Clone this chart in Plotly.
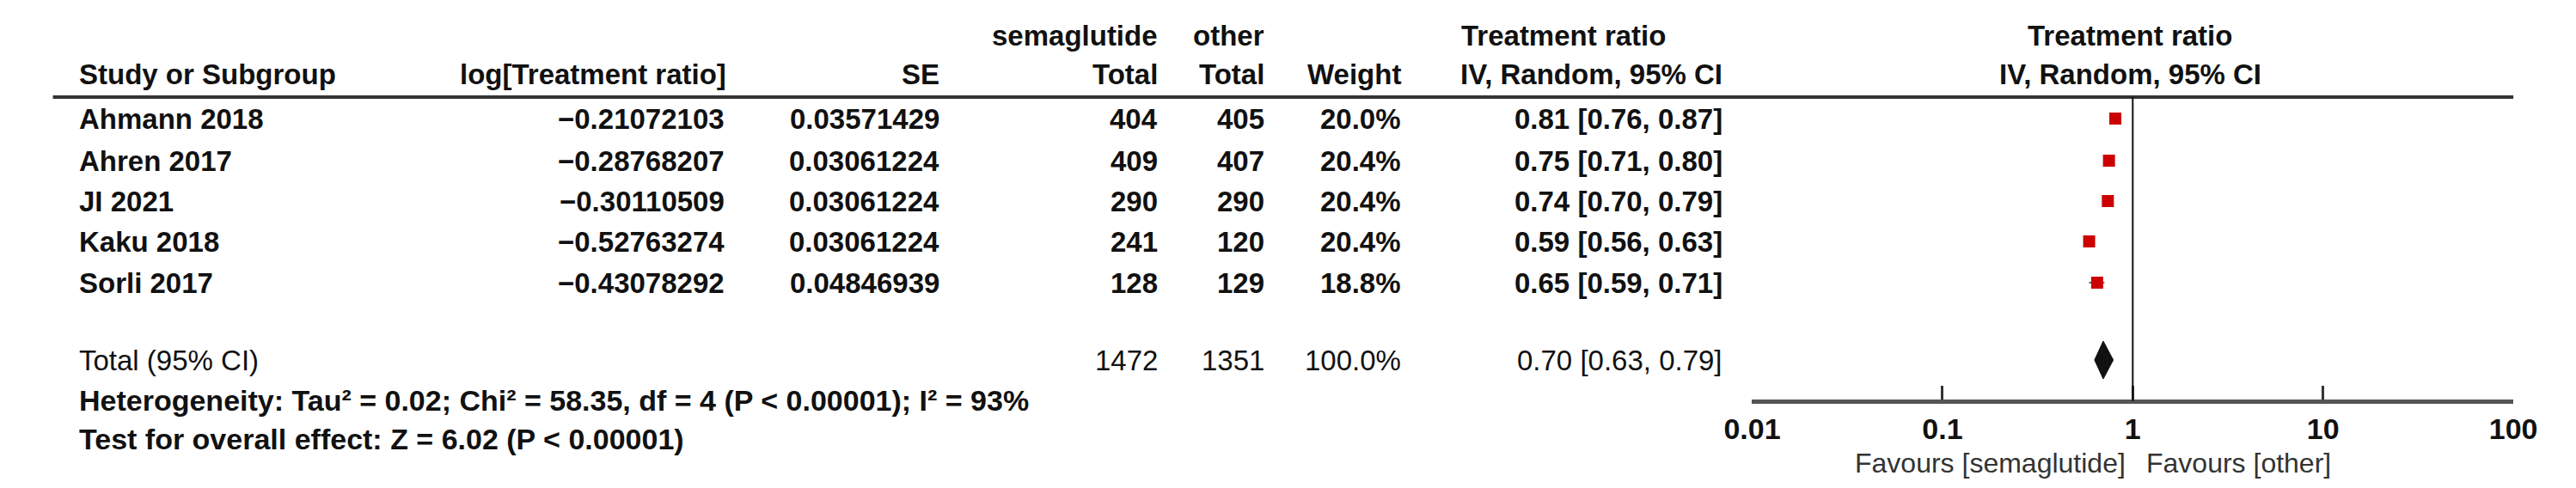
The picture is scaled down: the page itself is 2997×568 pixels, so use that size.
import plotly.graph_objects as go

studies = ["Ahmann 2018", "Ahren 2017", "JI 2021", "Kaku 2018", "Sorli 2017"]
log_tr = ["−0.21072103", "−0.28768207", "−0.30110509", "−0.52763274", "−0.43078292"]
se = ["0.03571429", "0.03061224", "0.03061224", "0.03061224", "0.04846939"]
sema_total = [404, 409, 290, 241, 128]
other_total = [405, 407, 290, 120, 129]
weight = ["20.0%", "20.4%", "20.4%", "20.4%", "18.8%"]
est = [0.81, 0.75, 0.74, 0.59, 0.65]
lo = [0.76, 0.71, 0.70, 0.56, 0.59]
hi = [0.87, 0.80, 0.79, 0.63, 0.71]
total_est, total_lo, total_hi = 0.70, 0.63, 0.79
total_sema, total_other, total_weight = 1472, 1351, "100.0%"
tick_vals = [0.01, 0.1, 1, 10, 100]
tick_text = ["0.01", "0.1", "1", "10", "100"]

W, H = 2997, 568
row_y = [130, 179, 226, 273, 321]
total_y = 411
FONT = "Liberation Sans"
FS = 33

fig = go.Figure()
fig.add_trace(go.Scatter(
    x=est, y=row_y, mode="markers",
    marker=dict(symbol="square", size=14, color="#cc0000"),
    error_x=dict(type="data", symmetric=False,
                 array=[h - e for h, e in zip(hi, est)],
                 arrayminus=[e - l for e, l in zip(est, lo)],
                 color="#333", thickness=1.5, width=0),
    showlegend=False, hoverinfo="skip"))
fig.add_trace(go.Scatter(
    x=[total_lo, total_est, total_hi, total_est, total_lo],
    y=[total_y, total_y - 22, total_y, total_y + 22, total_y],
    fill="toself", fillcolor="#111", line=dict(color="#111", width=1),
    mode="lines", showlegend=False, hoverinfo="skip"))

ann = []
def t(x, y, s, anchor="left", bold=False, size=FS, color="#111"):
    ann.append(dict(x=x / W, y=y, xref="paper", yref="y", text=f"<b>{s}</b>" if bold else s,
                    showarrow=False, xanchor=anchor, yanchor="middle",
                    font=dict(family=FONT, size=size, color=color)))

t(1335, 33, "semaglutide", "right", True)
t(1462, 33, "other", "right", True)
t(1815, 33, "Treatment ratio", "center", True)
t(2488, 33, "Treatment ratio", "center", True)
t(50, 78, "Study or Subgroup", "left", True)
t(823, 78, "log[Treatment ratio]", "right", True)
t(1076, 78, "SE", "right", True)
t(1335, 78, "Total", "right", True)
t(1462, 78, "Total", "right", True)
t(1624, 78, "Weight", "right", True)
t(2006, 78, "IV, Random, 95% CI", "right", True)
t(2488, 78, "IV, Random, 95% CI", "center", True)

for i, y in enumerate(row_y):
    t(50, y, studies[i], "left", True)
    t(821, y, log_tr[i], "right", True)
    t(1076, y, se[i], "right", True)
    t(1335, y, str(sema_total[i]), "right", True)
    t(1462, y, str(other_total[i]), "right", True)
    t(1624, y, weight[i], "right", True)
    t(2006, y, f"{est[i]:.2f} [{lo[i]:.2f}, {hi[i]:.2f}]", "right", True)

t(50, total_y, "Total (95% CI)")
t(1335, total_y, str(total_sema), "right")
t(1462, total_y, str(total_other), "right")
t(1624, total_y, total_weight, "right")
t(2006, total_y, f"{total_est:.2f} [{total_lo:.2f}, {total_hi:.2f}]", "right")
t(50, 458, "Heterogeneity: Tau² = 0.02; Chi² = 58.35, df = 4 (P < 0.00001); I² = 93%", "left", True, 34)
t(50, 503, "Test for overall effect: Z = 6.02 (P < 0.00001)", "left", True, 34)
t(2485, 531, "Favours [semaglutide]", "right", False, 32, "#333")
t(2505, 531, "Favours [other]", "left", False, 32, "#333")

shapes = [
    dict(type="line", xref="paper", yref="y", x0=21 / W, x1=2943 / W, y0=105, y1=105,
         line=dict(color="#333", width=4)),
    dict(type="line", xref="x", yref="y", x0=1, x1=1, y0=105, y1=459,
         line=dict(color="#111", width=2)),
]

fig.update_layout(
    width=W, height=H, margin=dict(l=0, r=0, t=0, b=0),
    plot_bgcolor="white", paper_bgcolor="white",
    annotations=ann, shapes=shapes,
    xaxis=dict(type="log", range=[-2, 2], domain=[2039 / W, 2943 / W],
               anchor="free", position=1 - 459 / H,
               showline=True, linecolor="#555", linewidth=5,
               ticks="inside", ticklen=16, tickwidth=3, tickcolor="#333",
               tickvals=tick_vals, ticktext=[f"<b>{s}</b>" for s in tick_text],
               showgrid=False, zeroline=False,
               tickfont=dict(family=FONT, size=34, color="#111")),
    yaxis=dict(range=[H, 0], domain=[0, 1], visible=False, showgrid=False, zeroline=False),
)
fig.write_html("out.html")
